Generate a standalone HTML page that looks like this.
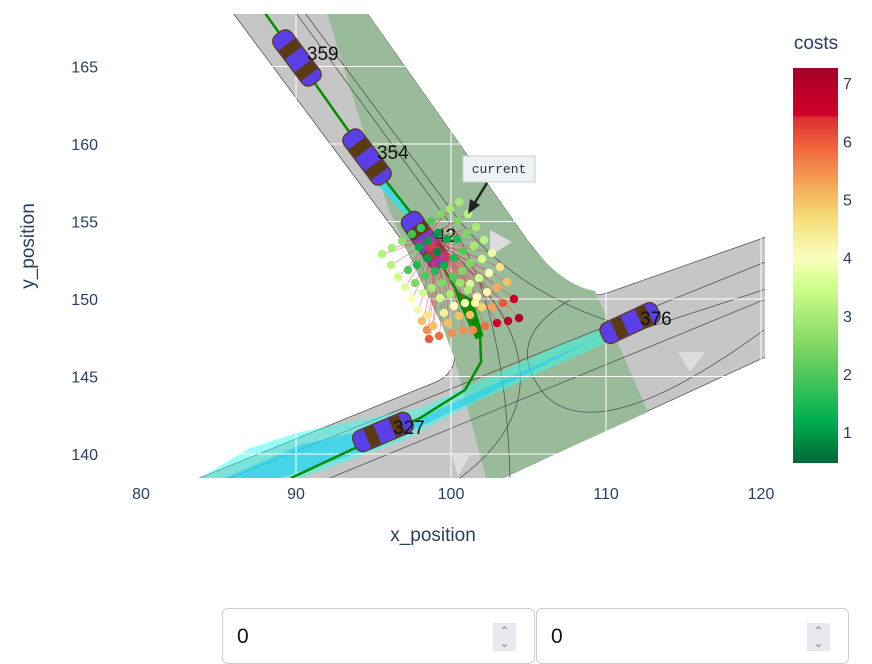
<!DOCTYPE html>
<html><head><meta charset="utf-8">
<style>
html,body{margin:0;padding:0;background:#fff;width:872px;height:662px;overflow:hidden;font-family:"Liberation Sans",sans-serif;}
#chart{position:absolute;left:0;top:0;}
.inp{position:absolute;top:608px;height:56px;border:1px solid #ccc;border-radius:6px;background:#fff;box-sizing:border-box;}
.inp span{position:absolute;left:14px;top:16px;font-size:21px;color:#111;}
.spin{position:absolute;top:14px;width:23px;height:28px;background:#e8e8ee;color:#888;font-size:12px;line-height:12px;text-align:center;padding-top:2px;box-sizing:border-box;}
</style></head><body>
<svg id="chart" width="872" height="600" xmlns="http://www.w3.org/2000/svg">
<defs>
<clipPath id="pc"><rect x="141" y="14" width="624" height="464"/></clipPath>
<linearGradient id="cg" x1="0" y1="1" x2="0" y2="0">
<stop offset="0" stop-color="rgb(0,104,55)"/>
<stop offset="0.11" stop-color="rgb(0,176,80)"/>
<stop offset="0.3" stop-color="rgb(130,215,100)"/>
<stop offset="0.45" stop-color="rgb(210,255,140)"/>
<stop offset="0.52" stop-color="rgb(250,255,190)"/>
<stop offset="0.62" stop-color="rgb(245,220,120)"/>
<stop offset="0.7" stop-color="rgb(245,170,90)"/>
<stop offset="0.8" stop-color="rgb(240,100,60)"/>
<stop offset="0.875" stop-color="rgb(220,45,50)"/>
<stop offset="0.88" stop-color="rgb(210,0,40)"/>
<stop offset="1" stop-color="rgb(165,0,40)"/>
</linearGradient>
</defs>
<g clip-path="url(#pc)">
<path d="M233,13 L404,243 L440,320 C458,345 462,370 436,382 L180,486 L498,480 L800,341 L800,225 L607,293 Q575,304 527,240 L367,13 Z" fill="#c6c6c6" stroke="#555" stroke-width="0.8"/>
<path d="M327,13 L367,13 L527,240 Q560,285 595,291 L648,412 L498,480 L486,478 L455,360 L440,320 L404,243 L389,210 L360,120 Z" fill="#99bb99"/>
<g fill="none" stroke="#555" stroke-width="0.8">
<path d="M296,13 L440,210 Q505,290 510,478"/>
<path d="M305,13 L455,215 Q520,300 640,330 L800,278"/>
<path d="M230,478 L800,248"/>
<path d="M330,478 L800,285"/>
<path d="M440,240 Q590,380 460,478"/>
<path d="M570,300 Q500,340 545,395 Q600,450 764,330"/>
</g>
<path d="M490,230 L512,242 L490,256 Z" fill="#ddd"/>
<path d="M678,352 L705,352 L690,372 Z" fill="#ddd"/>
<path d="M452,455 L470,455 L458,476 Z" fill="#ddd"/>
<path d="M200,478 L250,448 L300,432 L420,408 L560,345 L600,330 L612,340 L480,400 L400,442 L300,478 Z" fill="#33ffee" opacity="0.5"/>
<path d="M225,478 L300,445 L420,418 L600,336 L480,398 L380,446 L280,478Z" fill="#22ccee" opacity="0.6"/>
<path d="M355,160 L405,215 L410,212 L362,155Z" fill="#33ddee" opacity="0.8"/>
<g id="grid" stroke="#fff" stroke-width="1"></g>
<g id="marks"></g>
</g>
<g id="axes" font-size="16" fill="#2a3f5f"></g>
<text x="433" y="541" text-anchor="middle" font-size="19" fill="#2a3f5f">x_position</text>
<text transform="translate(34,246) rotate(-90)" text-anchor="middle" font-size="19" fill="#2a3f5f">y_position</text>
<g>
<rect x="463" y="156" width="72" height="26" fill="#eef2f6" stroke="#ccc"/>
<text x="499" y="173" text-anchor="middle" font-family="Liberation Mono,monospace" font-size="13" fill="#333">current</text>
<line x1="487" y1="183" x2="474" y2="204" stroke="#222" stroke-width="2.5"/>
<path d="M468,214 L470,199 L480,205 Z" fill="#222"/>
</g>
<text x="816" y="49" text-anchor="middle" font-size="19" fill="#2a3f5f">costs</text>
<rect x="793" y="68" width="45" height="395" fill="url(#cg)"/>
<g id="cticks" font-size="16" fill="#2a3f5f"></g>
</svg>
<div class="inp" style="left:222px;width:313px"><span>0</span><div class="spin" style="left:270px">&#8963;<br>&#8964;</div></div>
<div class="inp" style="left:536px;width:313px"><span>0</span><div class="spin" style="left:270px">&#8963;<br>&#8964;</div></div>
<script>
const xTicks=[80,90,100,110,120];
const yTicks=[140,145,150,155,160,165];
const cTicks=[1,2,3,4,5,6,7];
const trajX=[88.0,90.06,94.58,97.42,99.29,100.71,101.87,101.94,100.9,98.0,93.81,89.68];
const trajY=[168.45,165.55,159.16,155.55,152.39,149.94,147.68,145.94,144.13,142.32,140.39,138.45];
const carX=[90.06,94.58,95.61,111.55,98.32];
const carY=[165.55,159.16,141.42,148.45,153.81];
const carAng=[53,53,-23,-25,55];
const carIds=["359","354","327","376","42"];
const egoX=98.4, egoY=153.8;
const ptX=[100.52,99.94,101.10,99.35,98.71,100.45,101.61,98.06,101.03,102.13,97.48,96.84,102.65,96.19,95.55,101.48,102.0,103.16,96.13,96.58,102.45,103.61,97.03,102.97,104.06,97.48,103.35,104.39,97.87,98.13,103.68,102.97,98.45,102.19,98.58,99.23,101.42,100.06,100.77,98.84,99.81,100.52,101.23,102.0,102.65,101.68,102.32,101.81,101.23,98.52,99.55,100.19,100.90,101.55,
99.16,98.52,97.94,100.39,99.74,99.10,98.45,97.81,97.23,100.19,100.77,99.55,98.97,98.32,97.68,100.13,101.23,100.71,99.42,98.77,98.19,100.58,99.94,99.29,101.10];
const ptY=[156.26,155.81,155.48,155.48,155.03,155.03,154.65,154.58,154.26,153.81,154.19,153.74,152.97,153.29,152.90,153.42,152.58,152.06,152.19,151.42,151.68,151.10,150.77,150.77,150.0,150.0,149.74,148.77,149.29,148.58,148.58,148.45,148.0,148.26,147.42,147.61,148.0,147.81,148.0,148.26,148.45,148.90,148.97,149.48,149.48,150.13,150.45,151.35,150.97,148.97,149.10,149.55,149.74,149.74,
154.26,153.74,153.35,153.87,153.87,153.03,152.65,152.19,151.87,152.65,153.10,152.19,151.81,151.48,151.03,151.42,152.32,151.81,151.03,150.71,150.39,151.03,150.32,150.06,150.58];
const ptCost=[3,3,3.2,2.5,2,2.5,3,1.8,2.5,3.2,1.8,2.7,3.8,3,3.2,3,3.5,4.5,3.2,3.5,4,5,3.7,5.2,6.5,4,6,7,4.2,5,6.8,6.5,5.5,5.8,6,5.8,5.5,5.5,5.5,5,5,5,5,4.8,5.3,4,4.2,3.5,3.6,4.5,4.3,4,4,4.2,
1,1,1.2,1.5,1.2,0.8,1,1.5,2,1.5,2,1.2,1.5,2,2.5,2,2.5,2.5,2.5,3,3.5,2.8,3,3.5,3];
const NS='http://www.w3.org/2000/svg';
const sx=v=>141+(v-80)*15.5;
const sy=v=>299-(v-150)*15.5;
const cy=v=>463-(v-0.47)*(395/6.79);
function mk(t,a,p){const e=document.createElementNS(NS,t);for(const k in a)e.setAttribute(k,a[k]);(p).appendChild(e);return e;}
const stops=[[0,[0,104,55]],[0.11,[0,176,80]],[0.3,[130,215,100]],[0.45,[210,255,140]],[0.52,[250,255,190]],[0.62,[245,220,120]],[0.7,[245,170,90]],[0.8,[240,100,60]],[0.875,[220,45,50]],[0.88,[210,0,40]],[1,[165,0,40]]];
function col(c){let f=(c-0.47)/6.79;f=Math.max(0,Math.min(1,f));for(let i=1;i<stops.length;i++){if(f<=stops[i][0]){const a=stops[i-1],b=stops[i];const t=(f-a[0])/(b[0]-a[0]||1);const r=a[1].map((v,j)=>Math.round(v+(b[1][j]-v)*t));return 'rgb('+r.join(',')+')';}}return 'rgb(165,0,40)';}
const grid=document.getElementById('grid'),marks=document.getElementById('marks'),axes=document.getElementById('axes'),ct=document.getElementById('cticks');
xTicks.forEach(v=>{const l=mk('line',{x1:sx(v),x2:sx(v),y1:14,y2:478},grid);


const t=mk('text',{x:sx(v),y:499,'text-anchor':'middle'},axes);t.textContent=v;

});
yTicks.forEach(v=>{const l=mk('line',{x1:141,x2:765,y1:sy(v),y2:sy(v)},grid);


const t=mk('text',{x:98,y:sy(v)+6,'text-anchor':'end'},axes);t.textContent=v;

});
cTicks.forEach(v=>{const t=mk('text',{x:843,y:cy(v)+6},ct);t.textContent=v;

});
let d='';trajX.forEach((x,i)=>{d+=(i?'L':'M')+sx(x)+','+sy(trajY[i]);});
const tr=mk('path',{d:d,fill:'none',stroke:'#009000','stroke-width':2.5,'stroke-linejoin':'round'},marks);


const blob=mk('path',{d:'M'+sx(100.2)+','+sy(150.6)+' L'+sx(101.4)+','+sy(150.0)+' L'+sx(102.1)+','+sy(147.6)+' L'+sx(101.6)+','+sy(147.4)+' L'+sx(100.7)+','+sy(149.3)+' Z',fill:'#009000'},marks);


carX.forEach((x,i)=>{const g=mk('g',{transform:'translate('+sx(x)+','+sy(carY[i])+') rotate('+carAng[i]+')'},marks);


mk('rect',{x:-31,y:-11,width:62,height:22,rx:8,fill:'#5a3fe6',stroke:'#5a3a10','stroke-width':1.2},g);
mk('rect',{x:-17,y:-10,width:11,height:20,fill:'#5a3a10'},g);
mk('rect',{x:10,y:-10,width:11,height:20,fill:'#5a3a10'},g);
const t=mk('text',{x:sx(x)+10,y:sy(carY[i])+2,'font-size':19,fill:'#111'},marks);t.textContent=carIds[i];

});
ptX.forEach((x,i)=>{const x0=sx(egoX),y0=sy(egoY),x1=sx(x),y1=sy(ptY[i]);
const p=mk('path',{d:'M'+x0+','+y0+' Q'+((x0+x1)/2+(y1-y0)*0.15)+','+((y0+y1)/2)+' '+x1+','+y1,fill:'none',stroke:'#ee3355','stroke-width':0.6,opacity:0.7},marks);

});
ptX.forEach((x,i)=>{const c=mk('circle',{cx:sx(x),cy:sy(ptY[i]),r:4.2,fill:col(ptCost[i])},marks);

});
</script>
</body></html>
